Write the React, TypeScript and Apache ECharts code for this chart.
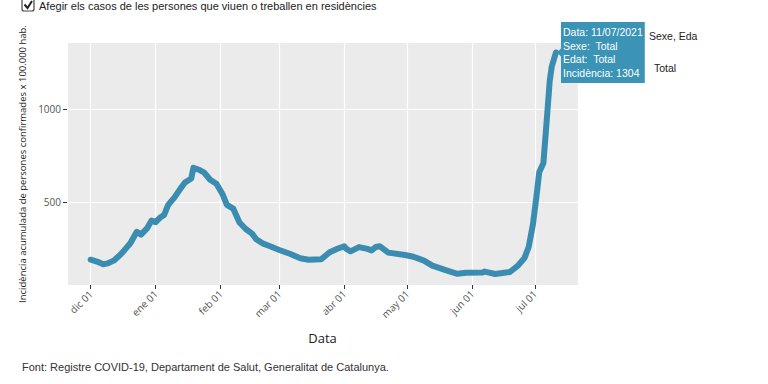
import React, { useEffect, useRef } from "react";
import * as echarts from "echarts";

const dates = [
  "2020-12-01","2020-12-04","2020-12-07","2020-12-09","2020-12-12","2020-12-15","2020-12-17","2020-12-20","2020-12-23","2020-12-25","2020-12-28","2020-12-30",
  "2021-01-01","2021-01-03","2021-01-05","2021-01-07","2021-01-10","2021-01-13","2021-01-15","2021-01-18","2021-01-19","2021-01-22","2021-01-24","2021-01-27","2021-01-30",
  "2021-02-02","2021-02-04","2021-02-07","2021-02-10","2021-02-13","2021-02-16","2021-02-18","2021-02-21","2021-02-24",
  "2021-03-01","2021-03-06","2021-03-11","2021-03-15","2021-03-21","2021-03-25","2021-03-29",
  "2021-04-01","2021-04-02","2021-04-04","2021-04-08","2021-04-12","2021-04-14","2021-04-16","2021-04-18","2021-04-22","2021-04-30",
  "2021-05-04","2021-05-09","2021-05-13","2021-05-19","2021-05-25","2021-05-29",
  "2021-06-06","2021-06-07","2021-06-12","2021-06-19","2021-06-23","2021-06-26","2021-06-28","2021-06-30",
  "2021-07-02","2021-07-03","2021-07-05","2021-07-07","2021-07-08","2021-07-09","2021-07-11",
];

const incidence = [
  190,180,165,170,185,215,240,280,340,325,360,400,
  392,415,430,485,525,575,605,627,684,672,660,620,598,
  540,485,465,390,355,330,300,278,265,
  242,222,198,190,192,230,250,
  262,248,235,258,248,240,258,262,228,215,
  206,185,158,135,114,120,
  121,126,113,124,160,200,260,380,
  560,660,710,1000,1150,1230,1304,
];

const tickDates = ["2020-12-01","2021-01-01","2021-02-01","2021-03-01","2021-04-01","2021-05-01","2021-06-01","2021-07-01"];
const tickLabels = ["dic 01","ene 01","feb 01","mar 01","abr 01","may 01","jun 01","jul 01"];
const yTicks = [500, 1000];
const yTickLabels = ["500", "1000"];

const tooltipLines = ["Data: 11/07/2021", "Sexe:  Total", "Edat:  Total", "Incidència: 1304"];

const toTime = (s: string) => {
  const [y, m, d] = s.split("-").map(Number);
  return new Date(y, m - 1, d).getTime();
};

const LINE_COLOR = "#3a8db0";
const TIP_COLOR = "#3b93b6";
const DAY = 86400000;

export default function App() {
  const ref = useRef<HTMLDivElement>(null);

  useEffect(() => {
    if (!ref.current) return;
    const chart = echarts.init(ref.current, undefined, { renderer: "svg" });
    const tickTimes = tickDates.map(toTime);
    const data = dates.map((d, i) => [toTime(d), incidence[i]]);
    const lastIdx = data.length - 1;

    const xMin = new Date(2020, 10, 19, 17).getTime();
    const xMax = new Date(2021, 6, 21, 12).getTime();

    chart.setOption({
      animation: false,
      backgroundColor: "#ffffff",
      grid: {
        left: 67,
        right: 190,
        top: 43,
        bottom: 99,
        show: true,
        backgroundColor: "#EBEBEB",
        borderWidth: 0,
      },
      xAxis: {
        type: "time",
        min: xMin,
        max: xMax,
        splitNumber: 8,
        minInterval: 28 * DAY,
        maxInterval: 31 * DAY,
        name: "Data",
        nameLocation: "middle",
        nameGap: 46,
        nameTextStyle: { fontFamily: "Open Sans, sans-serif", fontSize: 13, color: "#1a1a1a" },
        axisLine: { show: false },
        axisTick: { show: true, length: 4, lineStyle: { color: "#333333", width: 1 } },
        axisLabel: {
          rotate: 45,
          margin: 7,
          hideOverlap: false,
          fontFamily: "Open Sans, sans-serif",
          fontSize: 10,
          color: "#555555",
          formatter: (v: number) => {
            const i = tickTimes.findIndex((t) => Math.abs(t - v) < DAY / 2);
            return i >= 0 ? tickLabels[i] : "";
          },
        },
        splitLine: { show: true, lineStyle: { color: "#ffffff", width: 1.2 } },
      },
      yAxis: {
        type: "value",
        min: 54,
        max: 1355,
        name: "Incidència acumulada de persones confirmades x 100.000 hab.",
        nameLocation: "middle",
        nameRotate: 90,
        nameGap: 33,
        nameTextStyle: { fontFamily: "Open Sans, sans-serif", fontSize: 9.5, color: "#1a1a1a" },
        axisLine: { show: false },
        axisTick: { show: true, customValues: yTicks, length: 4, lineStyle: { color: "#333333", width: 1 } },
        axisLabel: {
          customValues: yTicks,
          margin: 6,
          fontFamily: "Open Sans, sans-serif",
          fontSize: 10,
          color: "#555555",
          formatter: (v: number) => {
            const i = yTicks.indexOf(v);
            return i >= 0 ? yTickLabels[i] : "";
          },
        },
        splitLine: { show: true, lineStyle: { color: "#ffffff", width: 1.2 } },
      },
      series: [
        {
          type: "line",
          data,
          showSymbol: false,
          symbol: "none",
          z: 3,
          lineStyle: { color: LINE_COLOR, width: 6, join: "round", cap: "round" },
          itemStyle: { color: LINE_COLOR },
          endLabel: {
            show: true,
            distance: 5,
            formatter: () => tooltipLines.join("\n"),
            backgroundColor: TIP_COLOR,
            color: "#ffffff",
            fontFamily: "Liberation Sans, Arial, sans-serif",
            fontSize: 10.5,
            lineHeight: 13.5,
            padding: [4, 2, 3, 2],
            align: "left",
            verticalAlign: "middle",
          },
        },
      ],
      graphic: [
        {
          type: "rect",
          z: 0,
          shape: { x: 22, y: -1, width: 12, height: 12, r: 2 },
          style: { fill: "#ffffff", stroke: "#444444", lineWidth: 1.2 },
        },
        {
          type: "polyline",
          z: 1,
          shape: { points: [[24.5, 4.5], [27.5, 8], [32, 1]] },
          style: { stroke: "#222222", lineWidth: 2, fill: null },
        },
        {
          type: "text",
          z: 0,
          x: 39,
          y: 6,
          style: {
            text: "Afegir els casos de les persones que viuen o treballen en residències",
            fontFamily: "Liberation Sans, Arial, sans-serif",
            fontSize: 11,
            fill: "#222222",
            verticalAlign: "middle",
          },
        },
        {
          type: "text",
          z: 0,
          x: 649,
          y: 36,
          style: {
            text: "Sexe, Eda",
            fontFamily: "Liberation Sans, Arial, sans-serif",
            fontSize: 10.5,
            fill: "#222222",
            verticalAlign: "middle",
          },
        },
        {
          type: "text",
          z: 0,
          x: 654,
          y: 68,
          style: {
            text: "Total",
            fontFamily: "Liberation Sans, Arial, sans-serif",
            fontSize: 10.5,
            fill: "#222222",
            verticalAlign: "middle",
          },
        },
        {
          type: "text",
          z: 0,
          x: 22,
          y: 367,
          style: {
            text: "Font: Registre COVID-19, Departament de Salut, Generalitat de Catalunya.",
            fontFamily: "Liberation Sans, Arial, sans-serif",
            fontSize: 11,
            fill: "#333333",
            verticalAlign: "middle",
          },
        },
      ],
    });

    const last = data[lastIdx];
    const p = chart.convertToPixel({ gridIndex: 0 }, last) as number[];
    if (p) {
      chart.setOption({
        graphic: [
          {
            id: "tipArrow",
            type: "polygon",
            z: 10,
            shape: { points: [[p[0] + 1, p[1]], [p[0] + 6, p[1] - 5], [p[0] + 6, p[1] + 5]] },
            style: { fill: TIP_COLOR },
          },
        ],
      });
    }

    return () => chart.dispose();
  }, []);

  return (
    <div
      ref={ref}
      style={{ position: "absolute", left: 0, top: 0, width: 768, height: 384 }}
    />
  );
}
